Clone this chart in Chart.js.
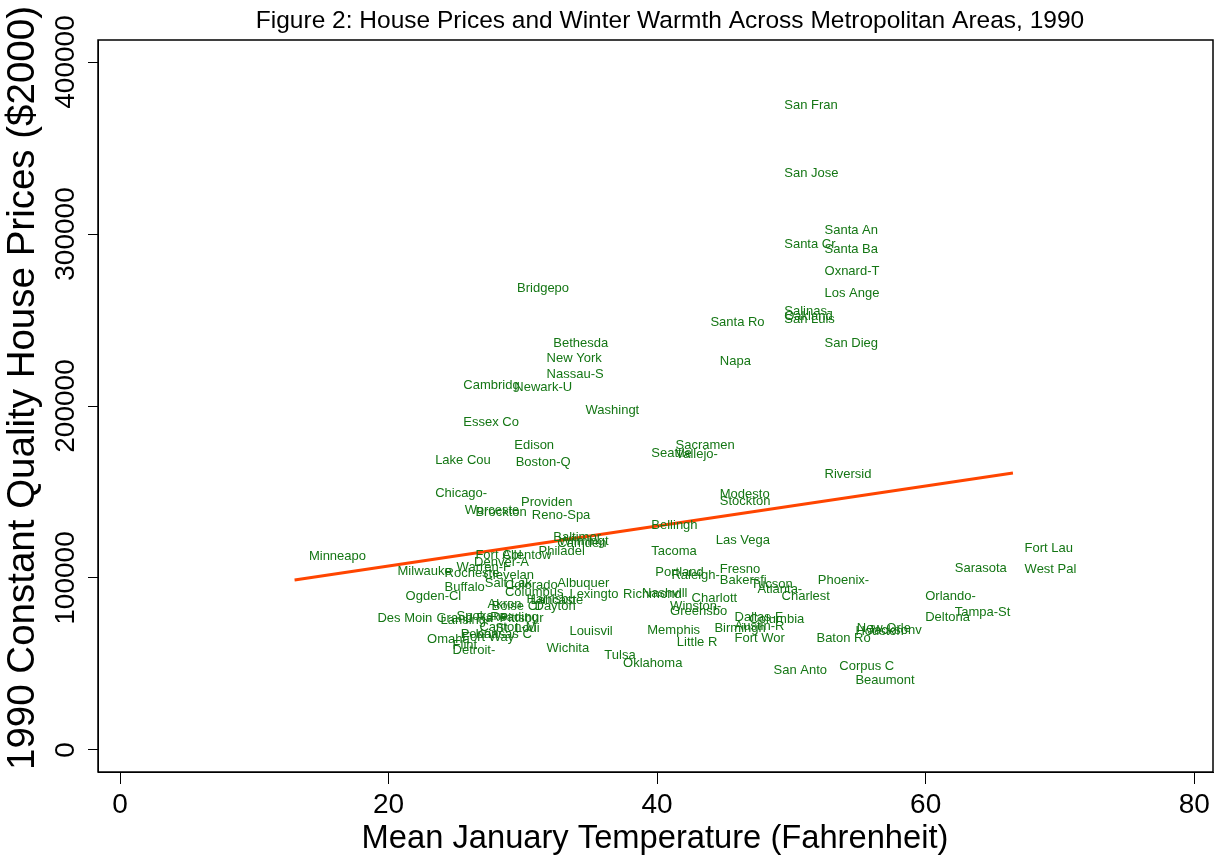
<!DOCTYPE html>
<html>
<head>
<meta charset="utf-8">
<script src="https://cdn.jsdelivr.net/npm/chart.js@4/dist/chart.umd.min.js"></script>
<style>
html, body { margin: 0; padding: 0; background: #fff; }
</style>
</head>
<body>
<canvas id="chart" width="1232" height="865"></canvas>
<script>
const cities = [
    'San Fran', 'San Jose', 'Santa An', 'Santa Cr', 'Santa Ba', 'Oxnard-T', 'Los Ange', 'Bridgepo',
    'Salinas-', 'Oakland', 'San Luis', 'Santa Ro', 'San Dieg', 'Bethesda', 'New York', 'Napa',
    'Nassau-S', 'Cambridg', 'Newark-U', 'Washingt', 'Essex Co', 'Edison', 'Sacramen', 'Seattle',
    'Vallejo-', 'Lake Cou', 'Boston-Q', 'Riversid', 'Chicago-', 'Modesto', 'Stockton', 'Providen',
    'Worceste', 'Brockton', 'Reno-Spa', 'Bellingh', 'Baltimor', 'Wilmingt', 'Camden', 'Las Vega',
    'Philadel', 'Fort Lau', 'Tacoma', 'Fort Col', 'Allentow', 'Minneapo', 'Denver-A', 'Warren-F',
    'Sarasota', 'West Pal', 'Fresno', 'Milwauke', 'Portland', 'Rocheste', 'Clevelan', 'Raleigh-',
    'Bakersfi', 'Phoenix-', 'Albuquer', 'Salt Lak', 'Tucson', 'Colorado', 'Buffalo', 'Atlanta-',
    'Columbus', 'Nashvill', 'Lexingto', 'Richmond', 'Charlest', 'Orlando-', 'Ogden-Cl', 'Charlott',
    'Harrisbu', 'Lancaste', 'Akron', 'Boise Ci', 'Dayton', 'Winston-', 'Greensbo', 'Tampa-St',
    'Deltona', 'Dallas-F', 'Des Moin', 'Spokane', 'Grand Ra', 'Lansing-', 'Reading', 'Pittsbur',
    'Columbia', 'Canton-M', 'St. Loui', 'Austin-R', 'New Orle', 'Houston', 'Jacksonv', 'Birmingh',
    'Memphis', 'Louisvil', 'Kansas C', 'Peoria', 'Fort Way', 'Omaha', 'Baton Ro', 'Fort Wor',
    'Little R', 'Flint', 'Wichita', 'Detroit-', 'Tulsa', 'Oklahoma', 'Corpus C', 'San Anto',
    'Beaumont'
];

// mean January temperature (F)
const janTemp = [
    48.5, 48.5, 51.5, 48.5, 51.5, 51.5, 51.5, 28.6,
    48.5, 48.5, 48.5, 43.0, 51.5, 31.3, 30.8, 43.7,
    30.8, 24.6, 28.4, 33.7, 24.6, 28.4, 40.4, 38.6,
    40.4, 22.5, 28.5, 51.5, 22.5, 43.7, 43.7, 28.9,
    24.7, 25.5, 29.7, 38.6, 31.3, 31.7, 31.6, 43.4,
    30.2, 66.4, 38.6, 25.5, 27.5, 13.1, 25.4, 24.1,
    61.2, 66.4, 43.7, 19.7, 38.9, 23.2, 26.1, 40.1,
    43.7, 51.0, 31.6, 26.2, 46.0, 27.7, 23.2, 46.5,
    27.7, 37.9, 32.5, 36.5, 48.3, 59.0, 20.3, 41.6,
    29.3, 29.6, 26.4, 26.7, 29.9, 40.0, 40.0, 61.2,
    59.0, 44.8, 18.2, 24.1, 22.6, 22.9, 26.6, 27.3,
    45.9, 25.8, 27.0, 44.8, 53.9, 53.8, 54.7, 43.3,
    38.3, 32.5, 25.5, 24.4, 24.5, 21.9, 50.9, 44.8,
    40.5, 23.8, 30.8, 23.8, 35.1, 36.5, 52.6, 47.7,
    53.8
];

// 1990 constant quality house price ($2000)
const housePrice = [
    375000, 335500, 302300, 294200, 291300, 278500, 265700, 268600,
    254700, 252300, 250600, 248800, 236600, 236600, 227900, 226200,
    218600, 212200, 211000, 197700, 190700, 177300, 177300, 172700,
    172100, 168600, 167400, 160500, 149400, 148300, 144800, 144200,
    139500, 138400, 136600, 130800, 123300, 121500, 120300, 122100,
    115700, 117400, 115700, 113400, 113400, 112800, 109300, 106400,
    105800, 105200, 105200, 104100, 103500, 102900, 101700, 101700,
    98800, 98800, 97100, 97100, 96500, 95900, 94800, 93600,
    91900, 91300, 90700, 90700, 89500, 89000, 89000, 88400,
    87800, 87200, 84900, 83700, 83700, 83700, 80800, 79700,
    77300, 77300, 76700, 77900, 76700, 75600, 77300, 76700,
    76200, 71500, 70900, 72100, 70900, 69200, 69800, 70400,
    69800, 69200, 67400, 67400, 65700, 64500, 65100, 65100,
    62800, 61000, 59300, 58100, 54700, 50600, 48300, 46500,
    40700
];

// fitted line end points
const fitTemp = [13.0, 66.5];
const fitPrice = [98800, 161000];

const xTicks = [0, 20, 40, 60, 80];
const yTicks = [0, 100000, 200000, 300000, 400000];

const fontFam = '"Liberation Sans", Arial, sans-serif';
const labelGreen = 'rgb(20, 118, 20)';

const points = janTemp.map((t, i) => ({ x: t, y: housePrice[i], name: cities[i] }));
const fitLine = fitTemp.map((t, i) => ({ x: t, y: fitPrice[i] }));

const stataDecor = {
    id: 'stataDecor',
    afterDatasetsDraw(chart) {
        const ctx = chart.ctx;
        const xs = chart.scales.x;
        const ys = chart.scales.y;

        // marker labels, position 3
        ctx.save();
        ctx.font = '13px ' + fontFam;
        ctx.fillStyle = labelGreen;
        ctx.textBaseline = 'middle';
        ctx.textAlign = 'left';
        points.forEach(p => {
            ctx.fillText(p.name, xs.getPixelForValue(p.x) + 13, ys.getPixelForValue(p.y));
        });
        ctx.restore();
    },
    afterDraw(chart) {
        const ctx = chart.ctx;
        const area = chart.chartArea;
        const ys = chart.scales.y;

        ctx.save();
        // frame
        ctx.strokeStyle = '#000';
        ctx.lineWidth = 1.5;
        ctx.strokeRect(area.left, area.top, area.right - area.left, area.bottom - area.top);

        // y tick labels (rotated)
        ctx.fillStyle = '#000';
        ctx.font = '28px ' + fontFam;
        ctx.textAlign = 'center';
        ctx.textBaseline = 'middle';
        yTicks.forEach(v => {
            ctx.save();
            ctx.translate(66, ys.getPixelForValue(v));
            ctx.rotate(-Math.PI / 2);
            ctx.fillText(String(v), 0, 0);
            ctx.restore();
        });

        // title
        ctx.font = '24.5px ' + fontFam;
        ctx.fillText('Figure 2: House Prices and Winter Warmth Across Metropolitan Areas, 1990', 670, 21);

        // axis titles
        ctx.font = '32.7px ' + fontFam;
        ctx.fillText('Mean January Temperature (Fahrenheit)', 655, 839);
        ctx.save();
        ctx.translate(23, 388);
        ctx.rotate(-Math.PI / 2);
        ctx.font = '38.5px ' + fontFam;
        ctx.fillText('1990 Constant Quality House Prices ($2000)', 0, 0);
        ctx.restore();
        ctx.restore();
    }
};

new Chart(document.getElementById('chart'), {
    type: 'scatter',
    data: {
        datasets: [{
            label: 'Cities',
            data: points,
            pointRadius: 0,
            pointHoverRadius: 0,
            showLine: false
        }, {
            type: 'line',
            label: 'Fitted values',
            data: fitLine,
            borderColor: 'rgb(255, 69, 0)',
            borderWidth: 3,
            pointRadius: 0,
            fill: false
        }]
    },
    options: {
        responsive: false,
        animation: false,
        layout: {
            padding: { top: 40, right: 19, left: 0, bottom: 0 }
        },
        plugins: {
            legend: { display: false },
            tooltip: { enabled: false }
        },
        scales: {
            x: {
                type: 'linear',
                min: -1.64,
                max: 81.4,
                afterBuildTicks: s => { s.ticks = xTicks.map(v => ({ value: v })); },
                afterFit: s => { s.height = 93; },
                grid: { drawOnChartArea: false, drawTicks: true, tickLength: 12, color: '#000' },
                border: { display: true, color: '#000', width: 1 },
                ticks: {
                    color: '#000',
                    padding: 4,
                    maxRotation: 0,
                    font: { size: 28, family: fontFam }
                }
            },
            y: {
                type: 'linear',
                min: -12800,
                max: 412800,
                afterBuildTicks: s => { s.ticks = yTicks.map(v => ({ value: v })); },
                afterFit: s => { s.width = 98; },
                grid: { drawOnChartArea: false, drawTicks: true, tickLength: 10, color: '#000' },
                border: { display: true, color: '#000', width: 1 },
                ticks: { display: false }
            }
        }
    },
    plugins: [stataDecor]
});
</script>
</body>
</html>
